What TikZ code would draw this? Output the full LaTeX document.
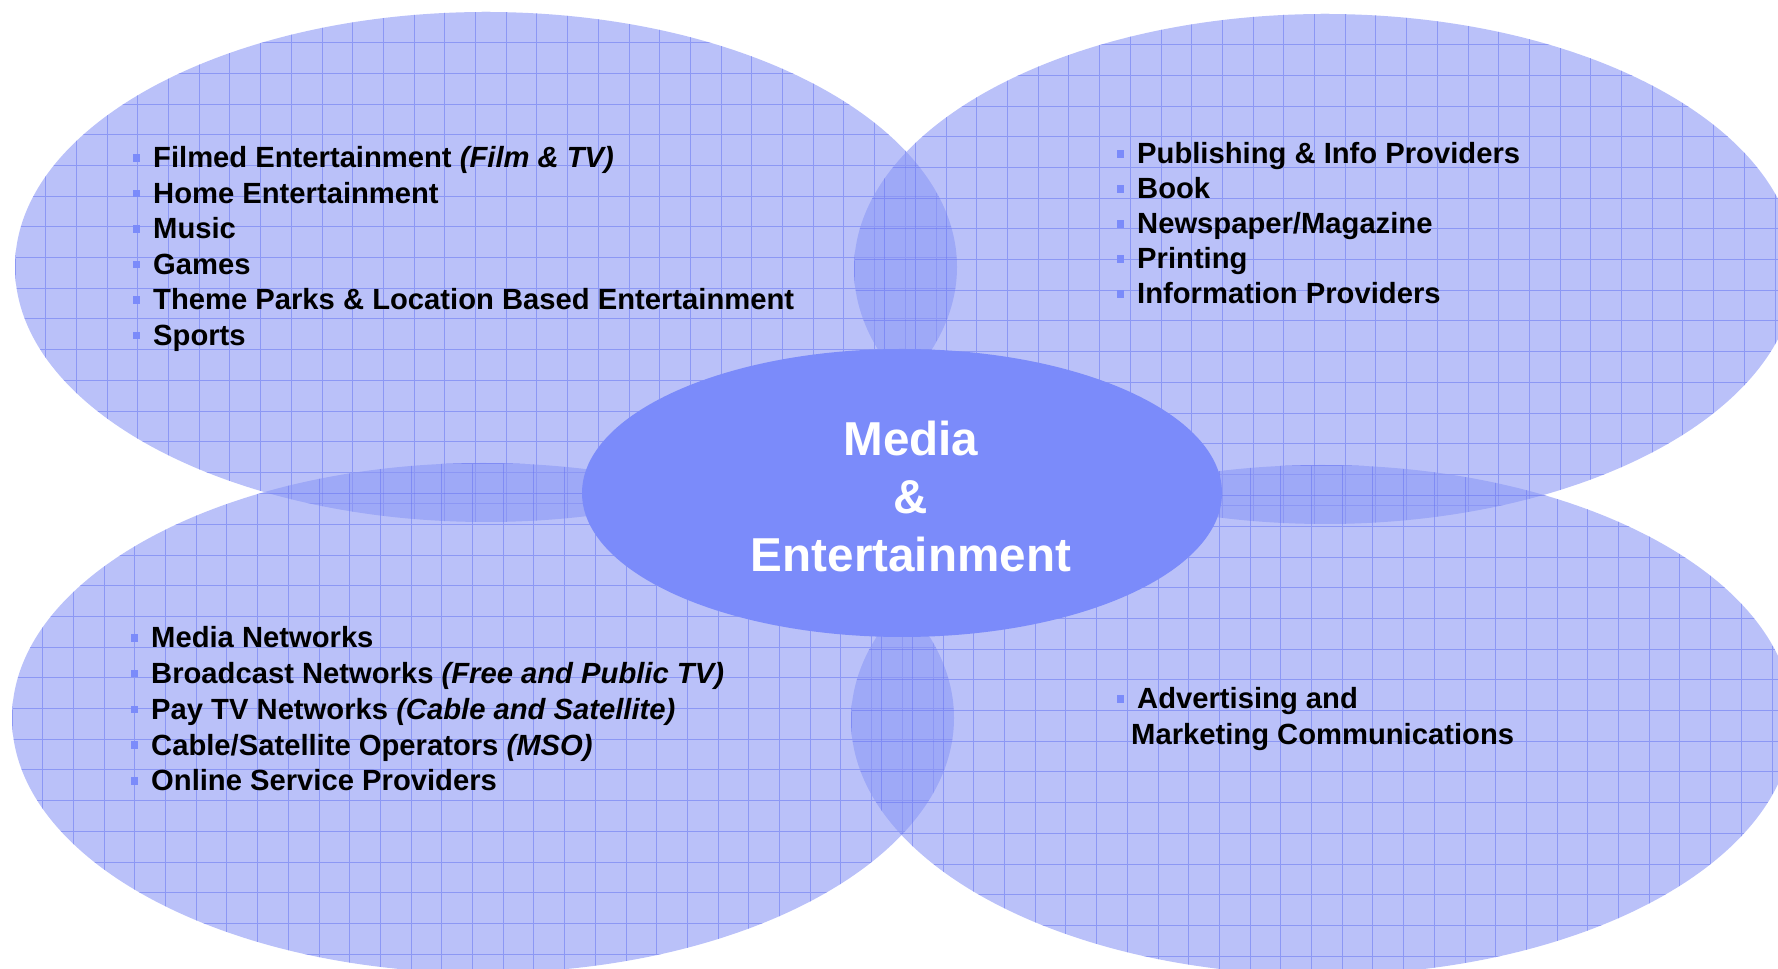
\documentclass[tikz,border=0pt]{standalone}
\usepackage{fontspec}
\setmainfont{Liberation Sans}
\usetikzlibrary{shapes.geometric}
\usetikzlibrary{positioning}

\definecolor{fieldblue}{RGB}{140,152,245}
\definecolor{gridblue}{RGB}{104,118,242}
\definecolor{hubblue}{RGB}{123,139,250}

\tikzset{
  field/.style={fill=fieldblue,fill opacity=0.6},
  gridline/.style={draw=gridblue,line width=1pt,opacity=0.55},
  entry/.style={anchor=base west,inner sep=0pt,font=\fontsize{29.2}{35}\selectfont\bfseries},
  bullet/.style={fill=hubblue,minimum width=7pt,minimum height=7.5pt,inner sep=0pt},
  hub/.style={ellipse,fill=hubblue,minimum width=640pt,minimum height=288pt,inner sep=0pt},
  hubtext/.style={text=white,align=center,inner sep=0pt,font=\fontsize{47.6}{58}\selectfont\bfseries}
}

\begin{document}
\begin{tikzpicture}[line cap=round,line join=round,x=1pt,y=1pt]
\useasboundingbox (0,0) rectangle (1778,969);
\clip (0,0) rectangle (1778,969);
\foreach \name/\cx/\cy in {tl/486/702,tr/1325/700,bl/483/251,br/1322/249}{
  \coordinate (\name) at (\cx,\cy);
  \fill[field] (\name) ellipse [x radius=471pt,y radius=255pt];
  \begin{scope}
    \clip (\name) ellipse [x radius=471pt,y radius=255pt];
    \draw[gridline,step=30.7pt,shift={(\cx-471,\cy+255)}] (0,-510) grid (942,0);
  \end{scope}
}
\node[hub] (hub) at (902,476) {};
\node[hubtext] (hublabel) at ([xshift=9pt,yshift=-3pt]hub.center) {Media\\\&\\Entertainment};
\foreach \txt [count=\i] in {{Filmed Entertainment \textit{(Film \& TV)}},Home Entertainment,Music,Games,
  {Theme Parks \& Location Based Entertainment},Sports}{
  \node[entry] (film\i) at (153,{801-35.5*(\i-1)}) {\txt};
  \node[bullet] (film\i b) at ([xshift=-16.5pt,yshift=10pt]film\i.base west) {};
}
\foreach \txt [count=\i] in {{Publishing \& Info Providers},Book,{Newspaper/Magazine},Printing,
  Information Providers}{
  \node[entry] (pub\i) at (1137,{805-35*(\i-1)}) {\txt};
  \node[bullet] (pub\i b) at ([xshift=-16.5pt,yshift=10pt]pub\i.base west) {};
}
\foreach \txt [count=\i] in {Media Networks,{Broadcast Networks \textit{(Free and Public TV)}},
  {Pay TV Networks \textit{(Cable and Satellite)}},{Cable/Satellite Operators \textit{(MSO)}},
  Online Service Providers}{
  \node[entry] (net\i) at (151,{321-35.7*(\i-1)}) {\txt};
  \node[bullet] (net\i b) at ([xshift=-16.5pt,yshift=10pt]net\i.base west) {};
}
\node[entry] (ad1) at (1137,260) {Advertising and};
\node[bullet] (ad1b) at ([xshift=-16.5pt,yshift=10pt]ad1.base west) {};
\node[entry] (ad2) at (1131,224) {Marketing Communications};
\end{tikzpicture}
\end{document}
